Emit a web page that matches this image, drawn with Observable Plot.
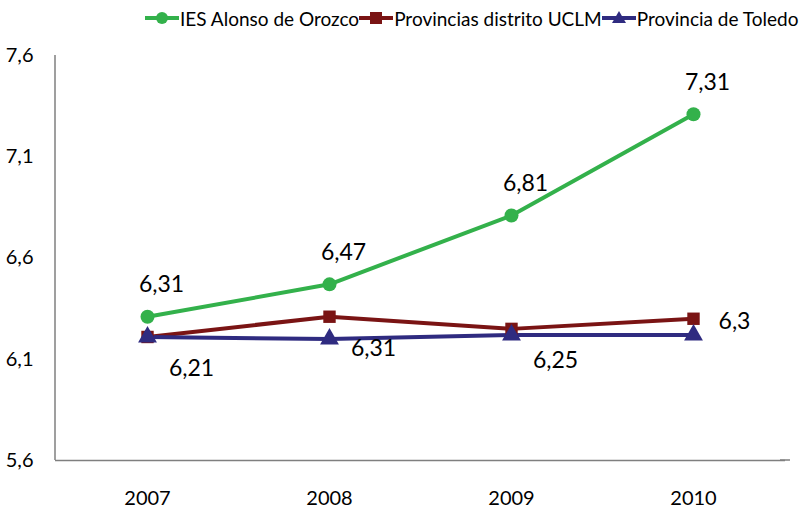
<!DOCTYPE html>
<html>
<head>
<meta charset="utf-8">
<script src="https://cdn.jsdelivr.net/npm/d3@7"></script>
<script src="https://cdn.jsdelivr.net/npm/@observablehq/plot@0.6"></script>
<style>
  body { margin: 0; background: #fff; font-family: Lato, "Open Sans", sans-serif; }
  #legend { height: 36px; display: flex; align-items: center; padding-left: 145px; white-space: nowrap; overflow: hidden; width: 801px; box-sizing: border-box; font-size: 19px; color: #000; }
  #legend .item { display: flex; align-items: center; flex-shrink: 0; }
  #legend svg { margin-right: 1px; }
</style>
</head>
<body>
<div id="legend"></div>
<div id="chart"></div>
<script>
const years = ["2007", "2008", "2009", "2010"];
const iesValues = [6.31, 6.47, 6.81, 7.31];
const uclmValues = [6.21, 6.31, 6.25, 6.3];
const toledoValues = [6.21, 6.2, 6.22, 6.22];
const seriesNames = ["IES Alonso de Orozco", "Provincias distrito UCLM", "Provincia de Toledo"];
const seriesColors = ["#33b14b", "#7a1414", "#2f2b80"];
const seriesSymbols = ["circle", "square", "triangle"];
const yTicks = [5.6, 6.1, 6.6, 7.1, 7.6];

const fmt = d => String(d).replace(".", ",");
const fmtTick = d => d.toFixed(1).replace(".", ",");

const allValues = [iesValues, uclmValues, toledoValues];
const data = [];
allValues.forEach((vals, s) => vals.forEach((v, i) => data.push({year: years[i], value: v, series: seriesNames[s], idx: i})));

// Legend
const legend = document.getElementById("legend");
seriesNames.forEach((name, s) => {
  const item = document.createElement("div");
  item.className = "item";
  let marker;
  if (s === 0) marker = `<circle cx="17" cy="10" r="6" fill="${seriesColors[s]}"/>`;
  else if (s === 1) marker = `<rect x="11" y="4" width="12" height="12" fill="${seriesColors[s]}"/>`;
  else marker = `<path d="M17,3 L24,15 L10,15 Z" fill="${seriesColors[s]}"/>`;
  item.innerHTML = `<svg width="34" height="20"><line x1="0" x2="34" y1="10" y2="10" stroke="${seriesColors[s]}" stroke-width="4"/>${marker}</svg><span>${name}</span>`;
  legend.appendChild(item);
});

const labelFont = {fontSize: 23, fill: "#000"};

const chart = Plot.plot({
  width: 801,
  height: 479,
  marginTop: 19,
  marginBottom: 55,
  marginLeft: 55,
  marginRight: 16,
  style: {fontFamily: "Lato, 'Open Sans', sans-serif", background: "#fff", overflow: "visible"},
  x: {type: "point", domain: years, padding: 0.5, label: null},
  y: {domain: [5.6, 7.6], ticks: yTicks, tickFormat: fmtTick, label: null},
  color: {domain: seriesNames, range: seriesColors},
  symbol: {domain: seriesNames, range: seriesSymbols},
  marks: [
    Plot.axisY({ticks: yTicks, tickFormat: fmtTick, tickSize: 0, tickPadding: 22, fontSize: 20, label: null}),
    Plot.axisX({tickSize: 0, tickPadding: 30, fontSize: 20, label: null}),
    Plot.ruleY([5.6], {stroke: "#7f7f7f", strokeWidth: 1.5}),
    Plot.line(data, {x: "year", y: "value", stroke: "series", z: "series", strokeWidth: 4}),
    Plot.dot(data, {x: "year", y: "value", fill: "series", symbol: "series", r: 7, stroke: null}),
    Plot.text(data.filter(d => d.series === seriesNames[0]), {x: "year", y: "value", text: d => fmt(d.value), dx: 14, dy: -32, ...labelFont}),
    Plot.text(data.filter(d => d.series === seriesNames[1] && d.idx < 3), {x: "year", y: "value", text: d => fmt(d.value), dx: 44, dy: 32, ...labelFont}),
    Plot.text(data.filter(d => d.series === seriesNames[1] && d.idx === 3), {x: "year", y: "value", text: d => fmt(d.value), dx: 41, dy: 3, ...labelFont})
  ]
});
document.getElementById("chart").appendChild(chart);

// left spine and extended bottom spine, as in the reference
const svg = d3.select(chart);
svg.append("line").attr("x1", 55).attr("x2", 55).attr("y1", 19).attr("y2", 424).attr("stroke", "#7f7f7f").attr("stroke-width", 1.5);
svg.append("line").attr("x1", 780).attr("x2", 790).attr("y1", 424).attr("y2", 424).attr("stroke", "#7f7f7f").attr("stroke-width", 1.5);
</script>
</body>
</html>
